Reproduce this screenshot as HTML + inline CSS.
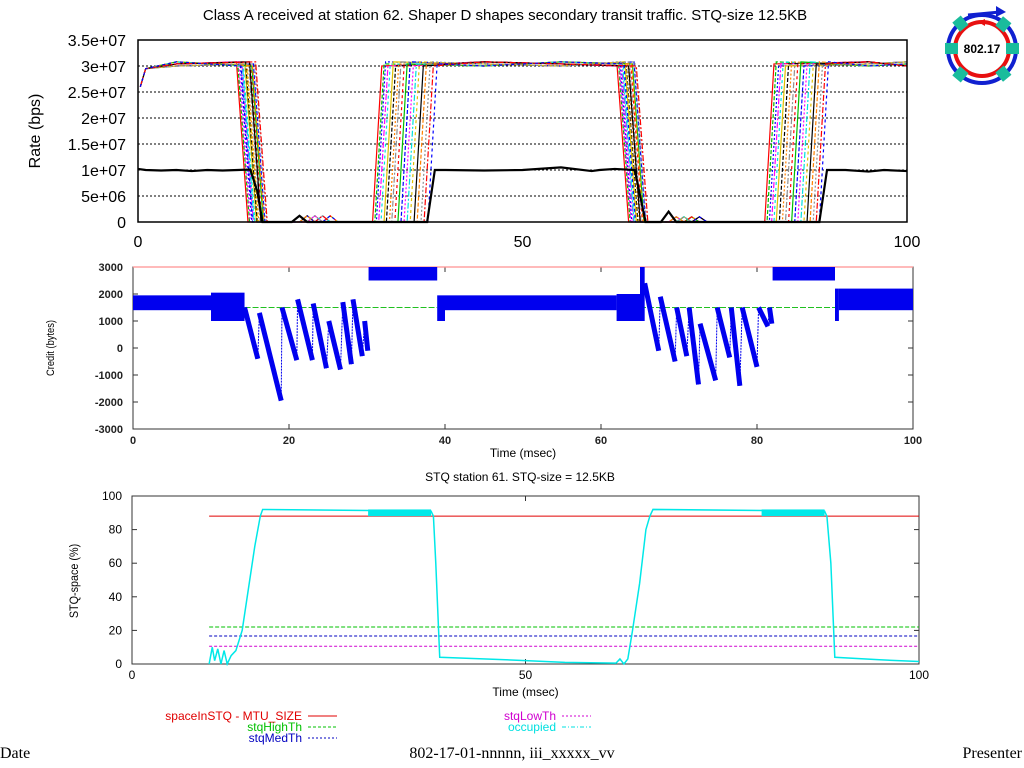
<!DOCTYPE html>
<html><head><meta charset="utf-8"><style>
html,body{margin:0;padding:0;background:#fff;width:1024px;height:768px;overflow:hidden}
svg{display:block;font-family:"Liberation Sans",sans-serif}
</style></head><body>
<svg id="s" width="1024" height="768" viewBox="0 0 1024 768">
<text x="505" y="20" font-size="15" text-anchor="middle">Class A received at station 62. Shaper D shapes secondary transit traffic. STQ-size 12.5KB</text>
<g>
<circle cx="982" cy="49" r="34" fill="none" stroke="#1020d0" stroke-width="4"/>
<circle cx="982" cy="49" r="27" fill="none" stroke="#e81010" stroke-width="4"/>
<path d="M968 15 L1000 12" stroke="#1020d0" stroke-width="3"/><polygon points="996,6 1006,12 996,17" fill="#1020d0"/>
<polygon points="985,19 978,22 985,26" fill="#e81010"/>
<g fill="#1abc9c" stroke="none">
<rect x="945" y="43" width="13" height="11"/><rect x="1006" y="43" width="13" height="11"/>
<rect x="955" y="18" width="11" height="12" transform="rotate(-40 960 24)"/><rect x="998" y="18" width="11" height="12" transform="rotate(40 1003 24)"/>
<rect x="955" y="68" width="11" height="12" transform="rotate(40 960 74)"/><rect x="998" y="68" width="11" height="12" transform="rotate(-40 1003 74)"/>
</g>
<text x="982" y="53" font-size="12" font-weight="bold" text-anchor="middle">802.17</text>
</g>
<g id="top"></g>
<g id="mid"></g>
<g id="bot"></g>
<g font-size="12">
<text x="302" y="720" fill="#e00000" text-anchor="end">spaceInSTQ - MTU_SIZE</text>
<line x1="308" y1="716" x2="337" y2="716" stroke="#e00000"/>
<text x="302" y="731" fill="#00c000" text-anchor="end">stqHighTh</text>
<line x1="308" y1="727" x2="337" y2="727" stroke="#00c000" stroke-dasharray="3,2"/>
<text x="302" y="742" fill="#0000c0" text-anchor="end">stqMedTh</text>
<line x1="308" y1="738" x2="337" y2="738" stroke="#0000c0" stroke-dasharray="2,2"/>
<text x="556" y="720" fill="#d000d0" text-anchor="end">stqLowTh</text>
<line x1="562" y1="716" x2="591" y2="716" stroke="#d000d0" stroke-dasharray="2,2"/>
<text x="556" y="731" fill="#00e0e0" text-anchor="end">occupied</text>
<line x1="562" y1="727" x2="591" y2="727" stroke="#00e0e0" stroke-dasharray="4,2,1,2"/>
</g>
<g font-family="Liberation Serif,serif" font-size="16">
<text x="0" y="758">Date</text>
<text x="512" y="758" text-anchor="middle">802-17-01-nnnnn, iii_xxxxx_vv</text>
<text x="1022" y="758" text-anchor="end">Presenter</text>
</g>
</svg>
<script>
const NS='http://www.w3.org/2000/svg';
// ---- top chart data ----
const rateTicks=[0,5e6,1e7,1.5e7,2e7,2.5e7,3e7,3.5e7];
const rateTickLabels=['0','5e+06','1e+07','1.5e+07','2e+07','2.5e+07','3e+07','3.5e+07'];
const topXTicks=[0,50,100];
const seriesColors=['#ff0000','#00c000','#0000ff','#ff00ff','#00e0e0','#e0c000','#000000','#ff8000','#909090','#ff0000','#00c000','#0000ff','#ff00ff','#00e0e0','#e0c000','#000000','#ff8000','#909090','#ff0000','#0000ff'];
const drop1=[12.8,13.0,13.3,13.5,13.7,13.9,14.0,14.2,14.4,14.6,14.8,15.0,13.1,13.6,14.1,14.5,14.9,15.2,15.3,13.4];
const rise1=[30.5,30.8,31.0,31.3,31.6,32.0,32.3,32.7,33.0,33.4,33.8,34.2,34.6,35.0,35.4,35.9,36.3,36.8,37.2,37.7];
const drop2=[62.3,62.5,62.7,62.9,63.1,63.3,63.5,63.7,63.9,64.1,64.3,64.5,62.6,63.0,63.4,63.8,64.2,64.6,64.8,63.2];
const rise2=[81.5,81.8,82.1,82.4,82.7,83.0,83.4,83.8,84.2,84.6,85.0,85.4,85.8,86.2,86.6,87.0,87.4,87.8,88.2,88.6];
const blackT=[0,1,3,5,7,9,11,13,14.6,15.5,16.2,20,21,22,37.6,38.6,40,45,50,55,59,60,62,64.6,65.3,66,68,69,70,88.6,89.6,92,95,97,100];
const blackV=[10.2e6,10e6,9.9e6,10e6,9.8e6,10e6,9.9e6,10e6,10.1e6,6e6,0,0,1.2e6,0,0,10e6,10e6,9.9e6,10e6,10.5e6,9.8e6,10e6,10.2e6,10e6,5e6,0,0,2e6,0,0,10e6,10e6,9.7e6,10e6,9.8e6];
// ---- middle chart data ----
const creditTicks=[-3000,-2000,-1000,0,1000,2000,3000];
const midXTicks=[0,20,40,60,80,100];
const bandT0=[0,10,30.2,39,40,62,65,82,90,90.5];
const bandT1=[10,14.3,39,40,62,65,65.6,90,90.5,100];
const bandLo=[1400,1000,2500,1000,1400,1000,1000,2500,1000,1400];
const bandHi=[1950,2050,3000,1950,1950,2000,3000,3000,2200,2200];
// sawtooth teeth: start time, start value, end time, end value
const toothT0=[14.3,16.2,19.1,21.1,23.1,25.1,26.9,28.2,29.7, 65.6,67.6,69.7,71.3,72.7,74.9,76.7,78.1,80.2,81.6];
const toothV0=[1500,1300,1500,1800,1650,1000,1700,1800,1000, 2400,1900,1500,1500,900,1500,1500,1500,1500,1500];
const toothT1=[16,19,21,23,24.8,26.6,28,29.4,30.1, 67.4,69.5,71,72.5,74.7,76.5,77.8,80,81.4,81.9];
const toothV1=[-400,-1950,-450,-450,-750,-800,-600,-300,-100, -100,-500,-300,-1350,-1200,-350,-1400,-700,800,900];
// ---- bottom chart data ----
const pctTicks=[0,20,40,60,80,100];
const botXTicks=[0,50,100];
const occT=[9.8,10.2,10.5,10.9,11.3,11.7,12.1,12.6,13.2,14,14.8,15.6,16.3,16.6,17,38,38.3,38.6,39.1,45,50,55,61.5,62,62.5,63,63.6,64.5,65.3,65.8,66.2,88,88.3,88.8,89.3,95,100];
const occV=[0,10,2,9,0,8,0,5,8,20,45,70,88,92,92,91,88,60,4,3,2,1,0.5,3,0,3,20,48,80,88,92,91,88,60,4,2.5,1.5];
const thrNames=['spaceInSTQ','stqHighTh','stqMedTh','stqLowTh'];
const thrValues=[88,22,16.7,10.6];
const thrColors=['#e00000','#00c000','#0000c0','#d000d0'];
const thrDash=['','4,2','3,2','3,2'];

function mk(parent,tag,attrs){const e=document.createElementNS(NS,tag);for(const k in attrs)e.setAttribute(k,attrs[k]);parent.appendChild(e);return e;}
function lin(d0,d1,r0,r1){return v=>r0+(v-d0)/(d1-d0)*(r1-r0);}

// ===== TOP =====
(function(){
 const g=document.getElementById('top');
 const X=lin(0,100,138,907),Y=lin(0,3.5e7,222,40);
 rateTicks.forEach((t,i)=>{
  if(t>0&&t<3.5e7){const l=mk(g,'line',{x1:X(0),x2:X(100),y1:Y(t),y2:Y(t),stroke:'#000','stroke-dasharray':'2,2','stroke-width':1});
   }
  const tx=mk(g,'text',{x:126,y:Y(t)+6,'font-size':16,'text-anchor':'end'});tx.textContent=rateTickLabels[i];
  
 });
 topXTicks.forEach(t=>{const tx=mk(g,'text',{x:X(t),y:247,'font-size':16,'text-anchor':'middle'});tx.textContent=t;
  });
 const yl=mk(g,'text',{x:40,y:131,'font-size':16,'text-anchor':'middle',transform:'rotate(-90 40 131)'});yl.textContent='Rate (bps)';
 
 const dashes=['','4,2','2,2','6,2,2,2','3,3'];
 seriesColors.forEach((c,i)=>{
  const wob=(k)=>3.0e7+((k+i)%3)*4e5;
  const pts=[[0.3,2.6e7],[1,2.95e7],[5,wob(1)],[drop1[i],wob(2)],[drop1[i]+1.5,0],[20+i%5,0],[21+i%5,1.2e6],[22+i%5,0],[rise1[i],0],[rise1[i]+1.2,wob(0)],[45,wob(2)],[55,wob(1)],[drop2[i],wob(0)],[drop2[i]+1.5,0],[69+i%4,0],[70+i%4,1e6],[71+i%4,0],[rise2[i],0],[rise2[i]+1.2,wob(1)],[95,wob(2)],[100,wob(0)]];
  const p=mk(g,'polyline',{points:pts.map(q=>X(q[0])+','+Y(q[1])).join(' '),fill:'none',stroke:c,'stroke-width':1.2,'stroke-dasharray':dashes[i%5]});
  
 });
 const b=mk(g,'polyline',{points:blackT.map((t,k)=>X(t)+','+Y(blackV[k])).join(' '),fill:'none',stroke:'#000','stroke-width':2.2});
 
 const fr=mk(g,'rect',{x:X(0),y:Y(3.5e7),width:X(100)-X(0),height:Y(0)-Y(3.5e7),fill:'none',stroke:'#000','stroke-width':1.5});
 
})();

// ===== MIDDLE =====
(function(){
 const g=document.getElementById('mid');
 const X=lin(0,100,133,913),Y=lin(-3000,3000,429,267);
 const fr=mk(g,'rect',{x:X(0),y:Y(3000),width:X(100)-X(0),height:Y(-3000)-Y(3000),fill:'none',stroke:'#333','stroke-width':1});
 
 creditTicks.forEach(t=>{
  const tx=mk(g,'text',{x:X(0)-10,y:Y(t)+4,'font-size':11,'text-anchor':'end','font-weight':'bold',fill:'#222'});tx.textContent=t;
  
  mk(g,'line',{x1:X(0),x2:X(0)+5,y1:Y(t),y2:Y(t),stroke:'#333'});mk(g,'line',{x1:X(100),x2:X(100)-5,y1:Y(t),y2:Y(t),stroke:'#333'});
 });
 midXTicks.forEach(t=>{
  const tx=mk(g,'text',{x:X(t),y:444,'font-size':11,'text-anchor':'middle','font-weight':'bold',fill:'#222'});tx.textContent=t;
  
  mk(g,'line',{x1:X(t),x2:X(t),y1:Y(-3000),y2:Y(-3000)-5,stroke:'#333'});mk(g,'line',{x1:X(t),x2:X(t),y1:Y(3000),y2:Y(3000)+5,stroke:'#333'});
 });
 const xl=mk(g,'text',{x:X(50),y:457,'font-size':12,'text-anchor':'middle'});xl.textContent='Time (msec)';
 
 const yl=mk(g,'text',{x:0,y:0,'font-size':11,'text-anchor':'middle',transform:'translate(54 348) rotate(-90) scale(0.85 1)'});yl.textContent='Credit (bytes)';
 
 const red=mk(g,'line',{x1:X(0),x2:X(100),y1:Y(3000),y2:Y(3000),stroke:'#ff9090','stroke-width':1.2});
 
 [[14.3,39],[65,90]].forEach(s=>{const l=mk(g,'line',{x1:X(s[0]),x2:X(s[1]),y1:Y(1500),y2:Y(1500),stroke:'#20c020','stroke-dasharray':'6,2'});
  });
 bandT0.forEach((t,i)=>{const r=mk(g,'rect',{x:X(t),y:Y(bandHi[i]),width:X(bandT1[i])-X(t),height:Y(bandLo[i])-Y(bandHi[i]),fill:'#0000ee'});
  });
 toothT0.forEach((t,i)=>{
  const l=mk(g,'line',{x1:X(t),y1:Y(toothV0[i]),x2:X(toothT1[i]),y2:Y(toothV1[i]),stroke:'#0000ee','stroke-width':5,'stroke-linecap':'butt'});
  
  if(i+1<toothT0.length&&toothT0[i+1]-toothT1[i]<1){
   const j=mk(g,'line',{x1:X(toothT1[i]),y1:Y(toothV1[i]),x2:X(toothT0[i+1]),y2:Y(toothV0[i+1]),stroke:'#0000ee','stroke-width':1,'stroke-dasharray':'2,1'});
   
  }
 });
})();

// ===== BOTTOM =====
(function(){
 const g=document.getElementById('bot');
 const X=lin(0,100,132,919),Y=lin(0,100,664,496);
 const tt=mk(g,'text',{x:520,y:481,'font-size':12,'text-anchor':'middle'});tt.textContent='STQ station 61. STQ-size = 12.5KB';
 
 const fr=mk(g,'rect',{x:X(0),y:Y(100),width:X(100)-X(0),height:Y(0)-Y(100),fill:'none',stroke:'#333','stroke-width':1});
 
 pctTicks.forEach(t=>{
  const tx=mk(g,'text',{x:X(0)-10,y:Y(t)+4,'font-size':12,'text-anchor':'end'});tx.textContent=t;
  
  mk(g,'line',{x1:X(0),x2:X(0)+5,y1:Y(t),y2:Y(t),stroke:'#333'});mk(g,'line',{x1:X(100),x2:X(100)-5,y1:Y(t),y2:Y(t),stroke:'#333'});
 });
 botXTicks.forEach(t=>{
  const tx=mk(g,'text',{x:X(t),y:679,'font-size':12,'text-anchor':'middle'});tx.textContent=t;
  
  mk(g,'line',{x1:X(t),x2:X(t),y1:Y(0),y2:Y(0)-5,stroke:'#333'});mk(g,'line',{x1:X(t),x2:X(t),y1:Y(100),y2:Y(100)+5,stroke:'#333'});
 });
 const xl=mk(g,'text',{x:X(50),y:696,'font-size':12,'text-anchor':'middle'});xl.textContent='Time (msec)';
 
 const yl=mk(g,'text',{x:0,y:0,'font-size':12,'text-anchor':'middle',transform:'translate(78 581) rotate(-90) scale(0.9 1)'});yl.textContent='STQ-space (%)';
 
 thrValues.forEach((v,i)=>{const l=mk(g,'line',{x1:X(9.8),x2:X(100),y1:Y(v),y2:Y(v),stroke:thrColors[i],'stroke-dasharray':thrDash[i]});
  });
 const p=mk(g,'polyline',{points:occT.map((t,k)=>X(t)+','+Y(occV[k])).join(' '),fill:'none',stroke:'#00e8e8','stroke-width':1.5});
 
 [[38,92],[88,92]].forEach(s=>{const r=mk(g,'rect',{x:X(s[0]-8),y:Y(s[1]),width:X(s[0])-X(s[0]-8),height:Y(88)-Y(92),fill:'#00e8e8'});
  });
})();
</script>
</body></html>
